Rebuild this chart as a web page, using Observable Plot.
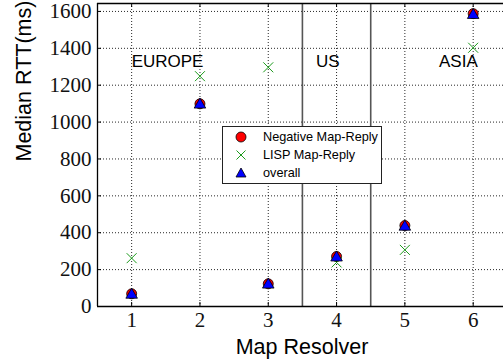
<!DOCTYPE html>
<html><head><meta charset="utf-8">
<script src="https://cdn.jsdelivr.net/npm/d3@7"></script>
<script src="https://cdn.jsdelivr.net/npm/@observablehq/plot@0.6"></script>
<style>
body{margin:0;background:#fff;}
#wrap{position:relative;width:503px;height:364px;overflow:hidden;}
#legend{position:absolute;left:222px;top:126px;width:158px;height:56px;border:1px solid #222;background:#fff;font:12.7px "Liberation Sans",Arial,sans-serif;color:#000;}
#legend .row{position:absolute;left:0;height:18px;display:flex;align-items:center;white-space:nowrap;}
#legend svg{width:14px;height:14px;margin-left:11px;margin-right:15px;overflow:visible}
</style></head>
<body><div id="wrap"></div>
<script>
const resolvers = [1, 2, 3, 4, 5, 6];
const negativeReply = [69, 1099, 123, 271, 439, 1588];
const lispReply = [262, 1249, 1297, 239, 307, 1403];
const overall = [63, 1094, 118, 265, 432, 1580];
const xTicks = [1, 2, 3, 4, 5, 6];
const yTicks = [0, 200, 400, 600, 800, 1000, 1200, 1400, 1600];
const regionNames = ["EUROPE", "US", "ASIA"];
const regionX = [1, 3.7, 5.5];
const regionY = [1300, 1300, 1300];
const dividers = [3.5, 4.5];
const seriesNames = ["Negative Map-Reply", "LISP Map-Reply", "overall"];
const xTitle = "Map Resolver";
const yTitle = "Median RTT(ms)";
const xDomain = [0.5, 6.444];
const yDomain = [0, 1643];

const rows = resolvers.map((r, i) => ({r, neg: negativeReply[i], lisp: lispReply[i], all: overall[i]}));
const regions = regionNames.map((name, i) => ({name, x: regionX[i], y: regionY[i]}));
const serif = "'Liberation Serif', 'DejaVu Serif', serif";

const plot = Plot.plot({
  width: 503, height: 364,
  marginLeft: 97, marginRight: 0, marginTop: 3, marginBottom: 58,
  x: {domain: xDomain, axis: null},
  y: {domain: yDomain, axis: null},
  style: {background: "white", overflow: "visible"},
  marks: [
    Plot.gridX(xTicks, {stroke: "#000", strokeOpacity: 0.85, strokeDasharray: "1,2"}),
    Plot.gridY(yTicks, {stroke: "#000", strokeOpacity: 0.85, strokeDasharray: "1,2"}),
    Plot.ruleX(dividers, {stroke: "#555", strokeWidth: 1.6}),
    Plot.ruleX([xDomain[0]], {stroke: "#000", strokeWidth: 1.3}),
    Plot.ruleY([yDomain[0]], {stroke: "#000", strokeWidth: 1.3}),
    Plot.ruleY([yDomain[1]], {stroke: "#000", strokeWidth: 1.3}),
    Plot.tickX(xTicks, {x: d => d, insetTop: 299, stroke: "#000"}),
    Plot.tickX(xTicks, {x: d => d, insetBottom: 299, stroke: "#000"}),
    Plot.tickY(yTicks, {y: d => d, insetRight: 402, stroke: "#000"}),
    Plot.text(xTicks, {x: d => d, text: d => String(d), frameAnchor: "bottom", dy: 6, lineAnchor: "top", fontSize: 21, fontFamily: serif, fill: "#111"}),
    Plot.text(yTicks, {y: d => d, text: d => String(d), frameAnchor: "left", dx: -6, textAnchor: "end", lineAnchor: "middle", fontSize: 21, fontFamily: serif, fill: "#111"}),
    Plot.text([xTitle], {frameAnchor: "bottom", dx: 1.5, dy: 47.5, lineAnchor: "bottom", fontSize: 21.5, fontFamily: "Liberation Sans", fill: "#000"}),
    Plot.text([yTitle], {frameAnchor: "left", dx: -73, dy: 6.5, rotate: -90, fontSize: 21.5, fontFamily: "Liberation Sans", fill: "#000"}),
    Plot.text(regions, {x: "x", y: "y", text: "name", textAnchor: "start", lineAnchor: "bottom", fontSize: 17, fontFamily: "Liberation Sans", fill: "#000"}),
    Plot.dot(rows, {x: "r", y: "neg", r: 5, fill: "#ff0000", stroke: "#000", strokeWidth: 0.8, symbol: "circle"}),
    Plot.dot(rows, {x: "r", y: "lisp", r: 4.6, stroke: "#1a9a1a", strokeWidth: 1, symbol: "times"}),
    Plot.dot(rows, {x: "r", y: "all", r: 4.3, fill: "#0000ff", stroke: "#000", strokeWidth: 0.8, symbol: "triangle"})
  ]
});
const wrap = document.getElementById("wrap");
wrap.appendChild(plot);

// legend box
const legend = document.createElement("div");
legend.id = "legend";
const markers = [
  '<svg viewBox="-7 -7 14 14"><circle r="5" fill="#ff0000" stroke="#000" stroke-width="0.8"/></svg>',
  '<svg viewBox="-7 -7 14 14"><path d="M-4.5,-4.5L4.5,4.5M-4.5,4.5L4.5,-4.5" stroke="#1a9a1a" stroke-width="1" fill="none"/></svg>',
  '<svg viewBox="-7 -7 14 14"><path d="M0,-5L5,4L-5,4Z" fill="#0000ff" stroke="#000" stroke-width="0.8"/></svg>'
];
const rowTops = [0.7, 19, 37.3];
seriesNames.forEach((name, i) => {
  const row = document.createElement("div");
  row.className = "row";
  row.style.top = rowTops[i] + "px";
  row.innerHTML = markers[i] + "<span>" + name + "</span>";
  legend.appendChild(row);
});
wrap.appendChild(legend);
</script>
</body></html>
